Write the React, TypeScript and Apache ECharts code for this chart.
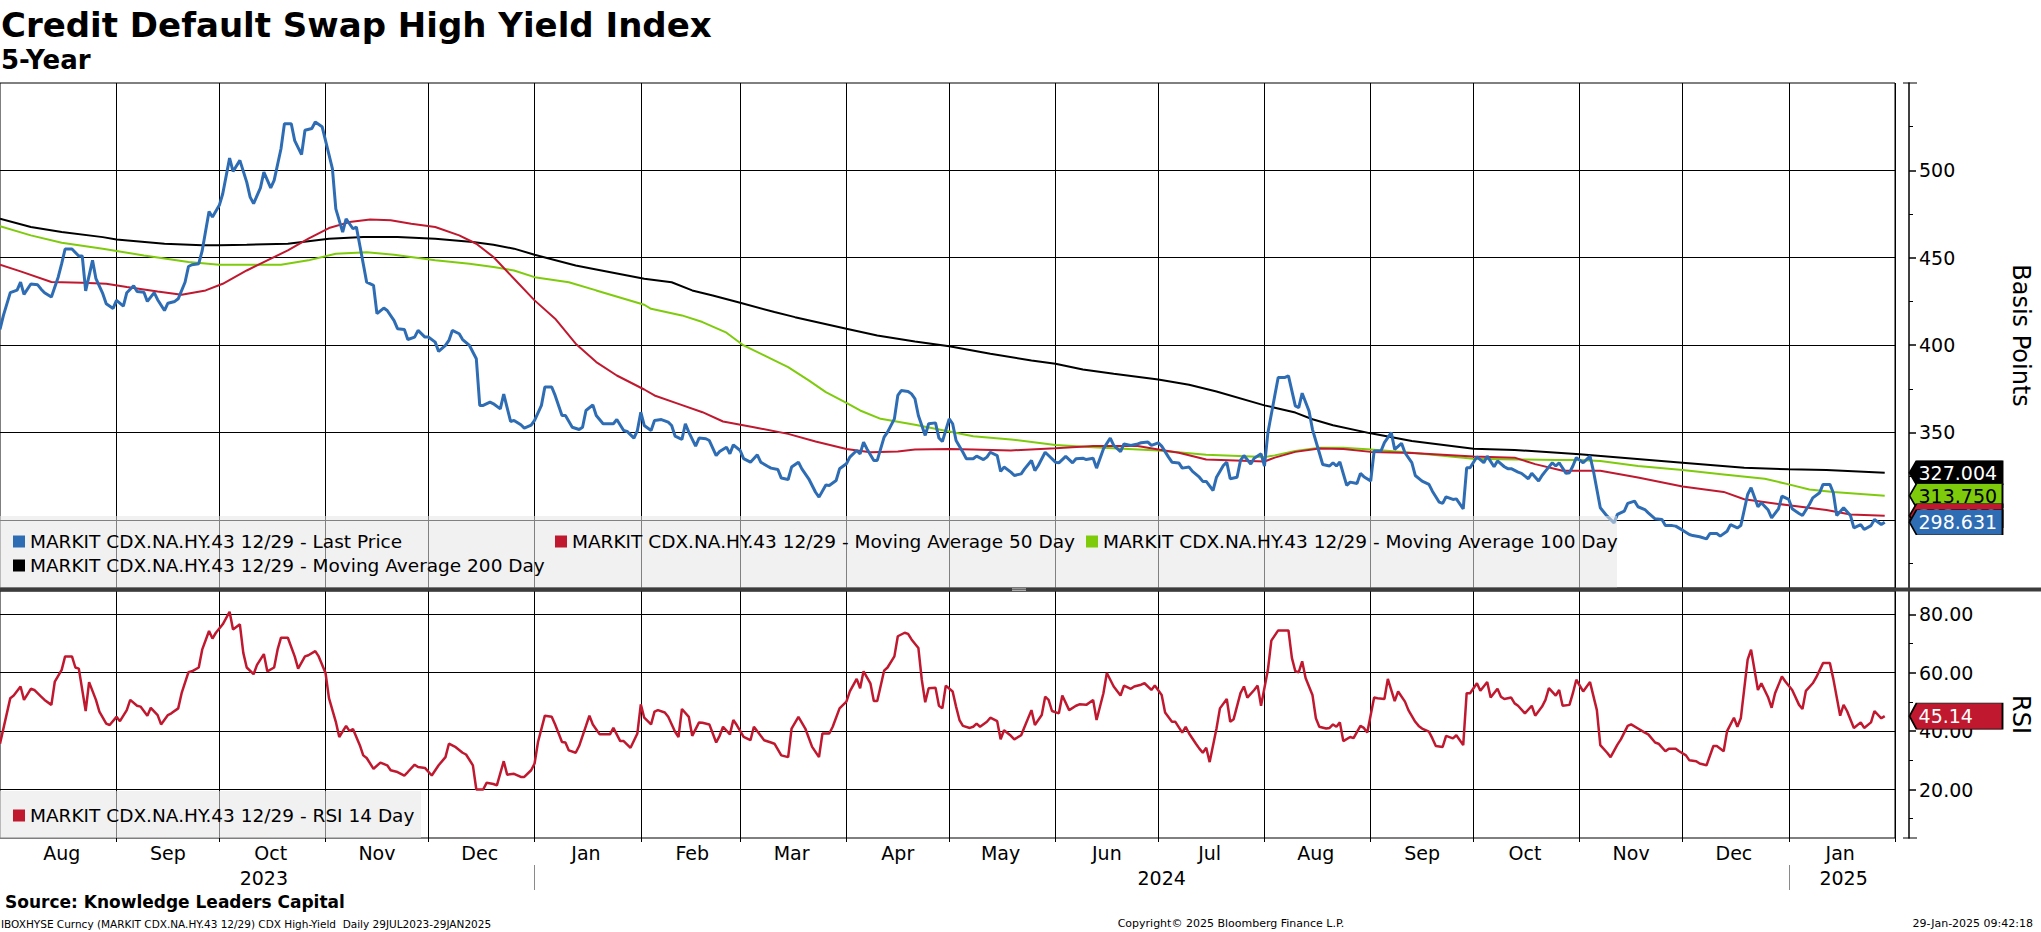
import React, { useRef, useEffect } from 'react';
import * as echarts from 'echarts';

const FONT = '"DejaVu Sans", sans-serif';
const START = '2023-07-29';
const END = '2025-02-01';

const S_LAST = 'MARKIT CDX.NA.HY.43 12/29 - Last Price';
const S_MA50 = 'MARKIT CDX.NA.HY.43 12/29 - Moving Average 50 Day';
const S_MA100 = 'MARKIT CDX.NA.HY.43 12/29 - Moving Average 100 Day';
const S_MA200 = 'MARKIT CDX.NA.HY.43 12/29 - Moving Average 200 Day';
const S_RSI = 'MARKIT CDX.NA.HY.43 12/29 - RSI 14 Day';

const monthNames = ['Jan', 'Feb', 'Mar', 'Apr', 'May', 'Jun', 'Jul', 'Aug', 'Sep', 'Oct', 'Nov', 'Dec'];
const yearLabelDates = ['2023-10-14', '2024-07-02', '2025-01-17'];
const yearBreaks = ['2024-01-01', '2025-01-01'];
const priceTicks = [300, 350, 400, 450, 500];
const priceMinorTicks = [275, 325, 375, 425, 475, 525];
const rsiTicks = [20, 40, 60, 80];
const rsiMinorTicks = [10, 30, 50, 70];

const lastPrice: [string, number][] = [
  ['2023-07-29', 409], ['2023-07-30', 417], ['2023-08-01', 430], ['2023-08-03', 431.5], ['2023-08-04', 436],
  ['2023-08-05', 429], ['2023-08-07', 435], ['2023-08-09', 434.5], ['2023-08-10', 432], ['2023-08-11', 430],
  ['2023-08-13', 427.5], ['2023-08-15', 439], ['2023-08-16', 446.6], ['2023-08-17', 455], ['2023-08-19', 455],
  ['2023-08-21', 451], ['2023-08-22', 451], ['2023-08-23', 431], ['2023-08-25', 448.5], ['2023-08-26', 438],
  ['2023-08-28', 429.4], ['2023-08-29', 423.7], ['2023-08-31', 421], ['2023-09-01', 425.6], ['2023-09-03', 422.3],
  ['2023-09-04', 430], ['2023-09-06', 434], ['2023-09-07', 430.7], ['2023-09-09', 430.3], ['2023-09-10', 425],
  ['2023-09-12', 430], ['2023-09-13', 426], ['2023-09-15', 419.8], ['2023-09-16', 424], ['2023-09-18', 425],
  ['2023-09-19', 426.5], ['2023-09-21', 436], ['2023-09-22', 445], ['2023-09-23', 446], ['2023-09-25', 446.6],
  ['2023-09-26', 454], ['2023-09-28', 476.5], ['2023-09-29', 473.3], ['2023-10-01', 480], ['2023-10-02', 486.6],
  ['2023-10-04', 507], ['2023-10-05', 499.4], ['2023-10-07', 505.7], ['2023-10-09', 493.3], ['2023-10-10', 484.7],
  ['2023-10-11', 481], ['2023-10-13', 490], ['2023-10-14', 499], ['2023-10-16', 490], ['2023-10-17', 494.3],
  ['2023-10-19', 512.4], ['2023-10-20', 526.7], ['2023-10-22', 526.7], ['2023-10-23', 517], ['2023-10-25', 509],
  ['2023-10-26', 523], ['2023-10-28', 524], ['2023-10-29', 527.7], ['2023-10-31', 525], ['2023-11-01', 517],
  ['2023-11-03', 501], ['2023-11-04', 478], ['2023-11-06', 464.7], ['2023-11-07', 472.3], ['2023-11-09', 466.6],
  ['2023-11-10', 467.6], ['2023-11-12', 446.6], ['2023-11-13', 436], ['2023-11-15', 434.2], ['2023-11-16', 418],
  ['2023-11-18', 421.2], ['2023-11-19', 419.8], ['2023-11-21', 414], ['2023-11-22', 409.4], ['2023-11-24', 409],
  ['2023-11-25', 403.2], ['2023-11-27', 404.6], ['2023-11-28', 408.4], ['2023-11-30', 404.6], ['2023-12-01', 404.6],
  ['2023-12-03', 401.7], ['2023-12-04', 396.4], ['2023-12-06', 399.8], ['2023-12-07', 402.7], ['2023-12-08', 408.4],
  ['2023-12-10', 406.5], ['2023-12-11', 403.2], ['2023-12-13', 399.8], ['2023-12-15', 392.2], ['2023-12-16', 365.5],
  ['2023-12-17', 365.5], ['2023-12-19', 367.4], ['2023-12-20', 366.4], ['2023-12-22', 363.5], ['2023-12-23', 372],
  ['2023-12-25', 356.3], ['2023-12-26', 356.9], ['2023-12-28', 354.4], ['2023-12-29', 352.5], ['2023-12-31', 354.2],
  ['2024-01-01', 356.9], ['2024-01-03', 365.5], ['2024-01-04', 376], ['2024-01-06', 376], ['2024-01-07', 371.2],
  ['2024-01-09', 359.7], ['2024-01-10', 359.7], ['2024-01-12', 353], ['2024-01-14', 351.7], ['2024-01-15', 353],
  ['2024-01-16', 362.6], ['2024-01-18', 365.8], ['2024-01-19', 359.7], ['2024-01-21', 355], ['2024-01-22', 355],
  ['2024-01-24', 355], ['2024-01-25', 357.4], ['2024-01-27', 351.1], ['2024-01-28', 350.6], ['2024-01-30', 346.8],
  ['2024-01-31', 351.1], ['2024-02-01', 361.6], ['2024-02-02', 354], ['2024-02-04', 351.1], ['2024-02-05', 356.9],
  ['2024-02-07', 357.4], ['2024-02-09', 355.9], ['2024-02-10', 354], ['2024-02-11', 347.9], ['2024-02-13', 346],
  ['2024-02-14', 355], ['2024-02-15', 350.2], ['2024-02-17', 342.2], ['2024-02-18', 346.8], ['2024-02-20', 346.4],
  ['2024-02-21', 345.4], ['2024-02-23', 336.8], ['2024-02-24', 339.1], ['2024-02-26', 341.6], ['2024-02-27', 337.8],
  ['2024-02-28', 342.9], ['2024-03-01', 339.7], ['2024-03-02', 335], ['2024-03-04', 333], ['2024-03-06', 337.2],
  ['2024-03-07', 333], ['2024-03-09', 330.7], ['2024-03-10', 329.6], ['2024-03-12', 328.8], ['2024-03-13', 323.9],
  ['2024-03-15', 323.1], ['2024-03-16', 330.2], ['2024-03-18', 333], ['2024-03-19', 329.2], ['2024-03-21', 323.5],
  ['2024-03-23', 315.8], ['2024-03-24', 313], ['2024-03-26', 320], ['2024-03-27', 319.7], ['2024-03-29', 322.5],
  ['2024-03-30', 329.2], ['2024-04-01', 332.1], ['2024-04-02', 335.9], ['2024-04-04', 339.7], ['2024-04-05', 337.8],
  ['2024-04-06', 344.5], ['2024-04-07', 340.6], ['2024-04-09', 334], ['2024-04-10', 334], ['2024-04-12', 347.3],
  ['2024-04-13', 350.2], ['2024-04-15', 357.8], ['2024-04-16', 371.2], ['2024-04-17', 374], ['2024-04-19', 373.5],
  ['2024-04-20', 372.1], ['2024-04-21', 369.3], ['2024-04-22', 359.7], ['2024-04-24', 348.3], ['2024-04-25', 355],
  ['2024-04-27', 355.5], ['2024-04-28', 346.8], ['2024-04-29', 344.8], ['2024-05-01', 357.8], ['2024-05-02', 355],
  ['2024-05-03', 345.4], ['2024-05-05', 338.7], ['2024-05-06', 335], ['2024-05-08', 335], ['2024-05-09', 336.5],
  ['2024-05-11', 334.5], ['2024-05-12', 335.9], ['2024-05-13', 338.7], ['2024-05-15', 336.8], ['2024-05-16', 327.7],
  ['2024-05-17', 330.2], ['2024-05-19', 327.3], ['2024-05-20', 325.4], ['2024-05-22', 326.3], ['2024-05-23', 329.2],
  ['2024-05-25', 334], ['2024-05-26', 328.2], ['2024-05-27', 331.1], ['2024-05-29', 338.7], ['2024-05-30', 336.8],
  ['2024-06-01', 333], ['2024-06-02', 332.6], ['2024-06-04', 336.3], ['2024-06-06', 332.6], ['2024-06-07', 335],
  ['2024-06-09', 335.3], ['2024-06-10', 334.5], ['2024-06-12', 335.3], ['2024-06-13', 329.6], ['2024-06-15', 340.6],
  ['2024-06-17', 346.8], ['2024-06-18', 342.6], ['2024-06-20', 339.1], ['2024-06-21', 343.5], ['2024-06-23', 342.6],
  ['2024-06-25', 343.5], ['2024-06-26', 344.1], ['2024-06-28', 344.5], ['2024-06-29', 342.6], ['2024-07-01', 344.1],
  ['2024-07-02', 342.2], ['2024-07-04', 335.9], ['2024-07-05', 333], ['2024-07-07', 332.6], ['2024-07-08', 329.6],
  ['2024-07-10', 330.2], ['2024-07-11', 327.7], ['2024-07-13', 324.4], ['2024-07-14', 322], ['2024-07-15', 322],
  ['2024-07-17', 316.8], ['2024-07-18', 324.4], ['2024-07-20', 331.1], ['2024-07-21', 333], ['2024-07-22', 323.5],
  ['2024-07-24', 324.4], ['2024-07-25', 334], ['2024-07-26', 336.8], ['2024-07-28', 332], ['2024-07-29', 335.3],
  ['2024-07-31', 337.8], ['2024-08-01', 330.8], ['2024-08-02', 349.9], ['2024-08-04', 371], ['2024-08-05', 381.5],
  ['2024-08-07', 381.5], ['2024-08-08', 382.4], ['2024-08-10', 365.2], ['2024-08-11', 364.2], ['2024-08-12', 372.5],
  ['2024-08-14', 362.3], ['2024-08-15', 351.8], ['2024-08-17', 338.4], ['2024-08-18', 331.7], ['2024-08-20', 330.8],
  ['2024-08-21', 332.7], ['2024-08-22', 330.8], ['2024-08-23', 333.1], ['2024-08-25', 319.7], ['2024-08-26', 321.6],
  ['2024-08-28', 320.8], ['2024-08-29', 326.6], ['2024-08-30', 324.7], ['2024-09-01', 322.2], ['2024-09-02', 339.4],
  ['2024-09-04', 339.4], ['2024-09-05', 344.2], ['2024-09-07', 349.9], ['2024-09-08', 340.3], ['2024-09-10', 343.8],
  ['2024-09-11', 338.4], ['2024-09-13', 332.7], ['2024-09-14', 325.4], ['2024-09-16', 322.2], ['2024-09-18', 320.3],
  ['2024-09-19', 316.4], ['2024-09-21', 310.1], ['2024-09-22', 309.4], ['2024-09-23', 313.2], ['2024-09-25', 311.7],
  ['2024-09-26', 312], ['2024-09-28', 306.3], ['2024-09-29', 329.8], ['2024-09-30', 329.8], ['2024-10-02', 336.1],
  ['2024-10-04', 332.7], ['2024-10-05', 336.5], ['2024-10-07', 330.4], ['2024-10-08', 333.7], ['2024-10-10', 330.4],
  ['2024-10-11', 329.3], ['2024-10-12', 329.3], ['2024-10-14', 327.3], ['2024-10-15', 326.6], ['2024-10-17', 323.5],
  ['2024-10-18', 326.6], ['2024-10-20', 322.2], ['2024-10-21', 325.4], ['2024-10-22', 327.9], ['2024-10-24', 332.7],
  ['2024-10-25', 330.8], ['2024-10-26', 332.7], ['2024-10-28', 326.6], ['2024-10-29', 327], ['2024-10-30', 330.8],
  ['2024-10-31', 335.6], ['2024-11-02', 332.7], ['2024-11-04', 336.5], ['2024-11-05', 327.9], ['2024-11-07', 306.9],
  ['2024-11-09', 302.1], ['2024-11-11', 298.3], ['2024-11-12', 303.1], ['2024-11-14', 305], ['2024-11-15', 309.4],
  ['2024-11-17', 310.7], ['2024-11-18', 307.5], ['2024-11-20', 305.9], ['2024-11-21', 304], ['2024-11-23', 300.6],
  ['2024-11-25', 300.2], ['2024-11-26', 296.7], ['2024-11-28', 296.7], ['2024-11-29', 296.4], ['2024-12-01', 294.1],
  ['2024-12-03', 291.6], ['2024-12-04', 291], ['2024-12-06', 290.3], ['2024-12-08', 289.1], ['2024-12-09', 292.2],
  ['2024-12-11', 292.2], ['2024-12-12', 290.7], ['2024-12-14', 293.5], ['2024-12-15', 297.3], ['2024-12-17', 295.4],
  ['2024-12-18', 296.7], ['2024-12-20', 314.5], ['2024-12-21', 318.4], ['2024-12-23', 307.5], ['2024-12-24', 309.8],
  ['2024-12-26', 305.6], ['2024-12-27', 301.1], ['2024-12-29', 306.3], ['2024-12-30', 313.6], ['2025-01-01', 311.7],
  ['2025-01-02', 306.3], ['2025-01-04', 303.6], ['2025-01-05', 302.5], ['2025-01-07', 308.8], ['2025-01-08', 312.6],
  ['2025-01-10', 315.5], ['2025-01-11', 320.3], ['2025-01-13', 320.3], ['2025-01-14', 315.5], ['2025-01-15', 302.5],
  ['2025-01-17', 306.9], ['2025-01-19', 302.5], ['2025-01-20', 295.4], ['2025-01-22', 297.3], ['2025-01-23', 294.5],
  ['2025-01-25', 296.7], ['2025-01-26', 300.2], ['2025-01-28', 297.3], ['2025-01-29', 298.631],
];

const ma50: [string, number][] = [
  ['2023-07-29', 446], ['2023-08-04', 442.2], ['2023-08-13', 436.1], ['2023-08-22', 435.7], ['2023-08-29', 435.1],
  ['2023-09-04', 433.2], ['2023-09-13', 430.7], ['2023-09-20', 428.8], ['2023-09-27', 431.3], ['2023-10-02', 435.1],
  ['2023-10-09', 442.7], ['2023-10-15', 448.5], ['2023-10-21', 454.2], ['2023-10-27', 460.9], ['2023-11-02', 467],
  ['2023-11-08', 470.4], ['2023-11-14', 471.9], ['2023-11-20', 471.4], ['2023-11-26', 469.5], ['2023-12-03', 467.6],
  ['2023-12-10', 462.8], ['2023-12-15', 458], ['2023-12-20', 450.4], ['2023-12-26', 438], ['2024-01-01', 425.6],
  ['2024-01-07', 415.1], ['2024-01-13', 400.8], ['2024-01-19', 390.3], ['2024-01-25', 382.6], ['2024-02-02', 374.6],
  ['2024-02-05', 371.2], ['2024-02-12', 366.4], ['2024-02-19', 361.6], ['2024-02-25', 356.3], ['2024-03-05', 353],
  ['2024-03-15', 349.2], ['2024-03-23', 344.8], ['2024-04-01', 340.6], ['2024-04-08', 338.7], ['2024-04-16', 339.1],
  ['2024-04-21', 340.3], ['2024-05-01', 340.6], ['2024-05-08', 340.3], ['2024-05-19', 339.7], ['2024-06-01', 341],
  ['2024-06-12', 342.2], ['2024-06-25', 342.2], ['2024-07-01', 340.3], ['2024-07-07', 338.4], ['2024-07-15', 334.5],
  ['2024-08-01', 333.4], ['2024-08-04', 335.6], ['2024-08-10', 338.9], ['2024-08-17', 340.8], ['2024-08-24', 340.5],
  ['2024-09-01', 338.9], ['2024-09-13', 338.2], ['2024-10-01', 336.2], ['2024-10-13', 335.6], ['2024-10-19', 331.9],
  ['2024-10-27', 328.1], ['2024-11-07', 328.1], ['2024-11-18', 324.2], ['2024-12-01', 319.1], ['2024-12-13', 316],
  ['2024-12-19', 311.8], ['2025-01-01', 308.3], ['2025-01-12', 305.6], ['2025-01-19', 303.1], ['2025-01-29', 302.4],
];

const ma100: [string, number][] = [
  ['2023-07-29', 468.1], ['2023-08-07', 462.8], ['2023-08-16', 458.6], ['2023-08-28', 455.2], ['2023-09-09', 451.3],
  ['2023-09-22', 447.5], ['2023-10-01', 446], ['2023-10-19', 446], ['2023-10-27', 448.5], ['2023-11-04', 452.3],
  ['2023-11-13', 453.2], ['2023-11-21', 451.7], ['2023-12-03', 448.5], ['2023-12-13', 446.6], ['2023-12-20', 444.7],
  ['2023-12-26', 442.7], ['2024-01-01', 438.9], ['2024-01-11', 436], ['2024-01-19', 431.3], ['2024-02-02', 423.1],
  ['2024-02-04', 420.8], ['2024-02-13', 417], ['2024-02-19', 413.2], ['2024-02-26', 407.1], ['2024-03-02', 399.8],
  ['2024-03-08', 394.1], ['2024-03-15', 387.4], ['2024-03-21', 379.8], ['2024-03-26', 373.1], ['2024-04-01', 367],
  ['2024-04-05', 362.6], ['2024-04-11', 357.8], ['2024-04-21', 354.4], ['2024-05-01', 350.6], ['2024-05-08', 347.9],
  ['2024-05-19', 346], ['2024-06-01', 342.9], ['2024-06-12', 341.6], ['2024-07-01', 339.7], ['2024-07-15', 337.2],
  ['2024-08-01', 335.9], ['2024-08-04', 336.9], ['2024-08-10', 339.4], ['2024-08-17', 341.3], ['2024-08-24', 341.3],
  ['2024-09-01', 340.3], ['2024-09-13', 338.4], ['2024-10-01', 334.9], ['2024-10-13', 334.6], ['2024-10-25', 334.2],
  ['2024-11-01', 334.2], ['2024-11-07', 333.7], ['2024-11-18', 330.8], ['2024-12-01', 328.5], ['2024-12-13', 326],
  ['2024-12-25', 323.5], ['2025-01-01', 320.3], ['2025-01-07', 317.4], ['2025-01-14', 315.9], ['2025-01-29', 313.75],
];

const ma200: [string, number][] = [
  ['2023-07-29', 472.3], ['2023-08-07', 467.6], ['2023-08-16', 464.7], ['2023-08-28', 461.8], ['2023-09-01', 460.5],
  ['2023-09-15', 458], ['2023-09-26', 457.1], ['2023-10-01', 457.1], ['2023-10-09', 457.4], ['2023-10-21', 458],
  ['2023-11-02', 460.9], ['2023-11-12', 461.8], ['2023-11-22', 461.8], ['2023-12-03', 460.9], ['2023-12-14', 459],
  ['2023-12-20', 457.4], ['2023-12-26', 455.2], ['2024-01-01', 451.7], ['2024-01-13', 445.6], ['2024-01-19', 443.3],
  ['2024-02-02', 438], ['2024-02-10', 436], ['2024-02-16', 431.3], ['2024-02-22', 428.4], ['2024-03-01', 424.2],
  ['2024-03-11', 418.9], ['2024-03-17', 416], ['2024-04-01', 409.4], ['2024-04-10', 405.5], ['2024-04-21', 402.1],
  ['2024-05-01', 399.4], ['2024-05-13', 395], ['2024-05-25', 391.2], ['2024-06-01', 389.3], ['2024-06-09', 386.1],
  ['2024-06-18', 383.6], ['2024-07-01', 380.3], ['2024-07-10', 377.3], ['2024-07-18', 373.5], ['2024-08-01', 365.5],
  ['2024-08-04', 364.2], ['2024-08-10', 361.4], ['2024-08-15', 357.6], ['2024-08-21', 354.1], ['2024-09-01', 349.5],
  ['2024-09-13', 345.1], ['2024-10-01', 340.7], ['2024-10-13', 340], ['2024-11-01', 337.5], ['2024-12-01', 332.7],
  ['2024-12-19', 329.8], ['2025-01-01', 328.9], ['2025-01-12', 328.5], ['2025-01-29', 327.004],
];

const rsi14: [string, number][] = [
  ['2023-07-29', 35.7], ['2023-08-01', 51.3], ['2023-08-02', 52.2], ['2023-08-04', 55.3], ['2023-08-05', 50.7],
  ['2023-08-07', 54.5], ['2023-08-08', 54.1], ['2023-08-10', 51.8], ['2023-08-11', 50.7], ['2023-08-13', 49],
  ['2023-08-14', 57], ['2023-08-16', 61], ['2023-08-17', 65.6], ['2023-08-19', 65.6], ['2023-08-20', 61.8],
  ['2023-08-21', 61.4], ['2023-08-23', 46.9], ['2023-08-24', 56.8], ['2023-08-26', 50.7], ['2023-08-27', 46.7],
  ['2023-08-29', 42.6], ['2023-08-30', 42.1], ['2023-09-01', 44.9], ['2023-09-02', 43.4], ['2023-09-04', 47.2],
  ['2023-09-05', 50.7], ['2023-09-07', 48.7], ['2023-09-08', 48.4], ['2023-09-10', 45.3], ['2023-09-11', 48],
  ['2023-09-13', 45.5], ['2023-09-14', 42.3], ['2023-09-16', 45.5], ['2023-09-17', 46.1], ['2023-09-19', 47.8],
  ['2023-09-20', 53], ['2023-09-22', 60.2], ['2023-09-23', 60.5], ['2023-09-25', 61.8], ['2023-09-26', 67.9],
  ['2023-09-28', 74.3], ['2023-09-29', 71.7], ['2023-09-30', 73.7], ['2023-10-02', 76.6], ['2023-10-04', 80.9],
  ['2023-10-05', 74.8], ['2023-10-07', 76.6], ['2023-10-08', 66.8], ['2023-10-09', 61.8], ['2023-10-11', 59.5],
  ['2023-10-12', 62.7], ['2023-10-14', 66.4], ['2023-10-15', 60.5], ['2023-10-17', 61.8], ['2023-10-18', 67.9],
  ['2023-10-19', 72], ['2023-10-21', 72], ['2023-10-23', 65.6], ['2023-10-24', 61.4], ['2023-10-26', 65.6],
  ['2023-10-27', 66], ['2023-10-29', 67.4], ['2023-10-30', 65.6], ['2023-11-01', 59.9], ['2023-11-02', 51.3],
  ['2023-11-04', 43.2], ['2023-11-05', 38], ['2023-11-07', 41.8], ['2023-11-08', 40], ['2023-11-09', 40.7],
  ['2023-11-11', 35.2], ['2023-11-12', 31.7], ['2023-11-13', 30.8], ['2023-11-15', 27.1], ['2023-11-17', 29.2],
  ['2023-11-19', 28.3], ['2023-11-20', 26.6], ['2023-11-22', 26], ['2023-11-24', 24.8], ['2023-11-25', 26],
  ['2023-11-27', 28.5], ['2023-11-28', 27.7], ['2023-11-30', 27.4], ['2023-12-02', 24.8], ['2023-12-04', 28.3],
  ['2023-12-06', 31.1], ['2023-12-07', 35.7], ['2023-12-09', 34.5], ['2023-12-11', 32.6], ['2023-12-12', 32],
  ['2023-12-14', 28.3], ['2023-12-15', 20], ['2023-12-17', 20], ['2023-12-18', 22.3], ['2023-12-20', 21.9],
  ['2023-12-21', 21.4], ['2023-12-23', 29.7], ['2023-12-24', 25.1], ['2023-12-26', 25.4], ['2023-12-28', 24.3],
  ['2023-12-29', 24.3], ['2023-12-31', 26.6], ['2024-01-01', 28.9], ['2024-01-02', 36.3], ['2024-01-04', 45.3],
  ['2024-01-06', 44.9], ['2024-01-07', 42.3], ['2024-01-09', 36.3], ['2024-01-10', 36.1], ['2024-01-11', 33.4],
  ['2024-01-13', 32.6], ['2024-01-14', 34.9], ['2024-01-16', 41.8], ['2024-01-17', 45.3], ['2024-01-18', 42.3],
  ['2024-01-20', 38.9], ['2024-01-22', 38.9], ['2024-01-23', 38.9], ['2024-01-24', 41.1], ['2024-01-26', 36.6],
  ['2024-01-27', 36.6], ['2024-01-29', 34.3], ['2024-01-31', 39.2], ['2024-02-01', 49.2], ['2024-02-02', 44.6],
  ['2024-02-04', 42.3], ['2024-02-05', 46.7], ['2024-02-06', 47.2], ['2024-02-08', 46.4], ['2024-02-09', 44.9],
  ['2024-02-11', 39.8], ['2024-02-12', 38], ['2024-02-13', 47.6], ['2024-02-15', 44.9], ['2024-02-16', 38.4],
  ['2024-02-18', 43], ['2024-02-19', 42.9], ['2024-02-21', 42.3], ['2024-02-23', 36.1], ['2024-02-24', 38.4],
  ['2024-02-25', 41.5], ['2024-02-27', 38.9], ['2024-02-28', 43.8], ['2024-02-29', 42.1], ['2024-03-02', 38],
  ['2024-03-04', 36.9], ['2024-03-05', 41.5], ['2024-03-07', 38.4], ['2024-03-08', 36.9], ['2024-03-10', 36.1],
  ['2024-03-11', 35.7], ['2024-03-13', 31.7], ['2024-03-15', 31.1], ['2024-03-16', 40.9], ['2024-03-18', 44.9],
  ['2024-03-20', 40.9], ['2024-03-22', 34.6], ['2024-03-24', 31.1], ['2024-03-25', 39.2], ['2024-03-27', 39.2],
  ['2024-03-28', 41.5], ['2024-03-30', 47.8], ['2024-04-01', 50.1], ['2024-04-02', 53.6], ['2024-04-04', 57.9],
  ['2024-04-05', 54.7], ['2024-04-06', 60.5], ['2024-04-08', 56.4], ['2024-04-09', 50.3], ['2024-04-10', 50.3],
  ['2024-04-12', 60.7], ['2024-04-13', 61.8], ['2024-04-15', 65.6], ['2024-04-16', 72.5], ['2024-04-18', 73.7],
  ['2024-04-19', 73.3], ['2024-04-20', 71.4], ['2024-04-22', 68.5], ['2024-04-23', 57.6], ['2024-04-24', 49.9],
  ['2024-04-25', 54.7], ['2024-04-27', 54.9], ['2024-04-28', 48.7], ['2024-04-29', 47.8], ['2024-04-30', 55.6],
  ['2024-05-02', 53.6], ['2024-05-03', 48.4], ['2024-05-04', 43.8], ['2024-05-05', 41.8], ['2024-05-07', 41.1],
  ['2024-05-08', 41.5], ['2024-05-09', 42.6], ['2024-05-10', 41.5], ['2024-05-12', 43.2], ['2024-05-13', 44.6],
  ['2024-05-15', 43.4], ['2024-05-16', 37.2], ['2024-05-17', 40.3], ['2024-05-19', 38.4], ['2024-05-20', 37.2],
  ['2024-05-22', 38.6], ['2024-05-23', 41.5], ['2024-05-25', 47.2], ['2024-05-26', 42.1], ['2024-05-28', 45.5],
  ['2024-05-29', 51.8], ['2024-05-30', 50.7], ['2024-05-31', 46.9], ['2024-06-02', 46.1], ['2024-06-03', 52.2],
  ['2024-06-05', 47.2], ['2024-06-07', 48.7], ['2024-06-08', 49.2], ['2024-06-10', 49], ['2024-06-12', 50.7],
  ['2024-06-13', 43.8], ['2024-06-15', 53], ['2024-06-16', 59.9], ['2024-06-18', 55.3], ['2024-06-20', 52.2],
  ['2024-06-21', 55.6], ['2024-06-23', 54.5], ['2024-06-24', 55.3], ['2024-06-26', 55.9], ['2024-06-27', 56.4],
  ['2024-06-29', 54.1], ['2024-06-30', 55.6], ['2024-07-02', 52.4], ['2024-07-03', 46.4], ['2024-07-05', 43.2],
  ['2024-07-06', 43.2], ['2024-07-08', 39.5], ['2024-07-09', 41.5], ['2024-07-10', 39.2], ['2024-07-12', 35.7],
  ['2024-07-13', 34], ['2024-07-14', 32.6], ['2024-07-15', 34.3], ['2024-07-16', 29.4], ['2024-07-18', 40.9],
  ['2024-07-19', 47.8], ['2024-07-21', 51], ['2024-07-22', 43.2], ['2024-07-23', 44.1], ['2024-07-25', 53],
  ['2024-07-26', 55.3], ['2024-07-27', 51.5], ['2024-07-29', 54.1], ['2024-07-30', 55.6], ['2024-07-31', 48.7],
  ['2024-08-02', 61], ['2024-08-03', 71], ['2024-08-05', 74.5], ['2024-08-06', 74.5], ['2024-08-08', 74.5],
  ['2024-08-09', 65.1], ['2024-08-10', 60.5], ['2024-08-11', 60.2], ['2024-08-12', 63.9], ['2024-08-13', 58.2],
  ['2024-08-15', 52.4], ['2024-08-16', 44.4], ['2024-08-17', 41.5], ['2024-08-19', 40.9], ['2024-08-20', 41.1],
  ['2024-08-21', 42.3], ['2024-08-22', 41.5], ['2024-08-23', 43], ['2024-08-24', 36.6], ['2024-08-26', 38],
  ['2024-08-27', 37.6], ['2024-08-29', 41.8], ['2024-08-30', 41.1], ['2024-08-31', 39.5], ['2024-09-02', 51.5],
  ['2024-09-03', 51.3], ['2024-09-05', 51], ['2024-09-06', 57.9], ['2024-09-08', 50.3], ['2024-09-09', 53.6],
  ['2024-09-11', 50.1], ['2024-09-12', 47.2], ['2024-09-14', 43.2], ['2024-09-15', 41.8], ['2024-09-16', 40.9],
  ['2024-09-18', 39.8], ['2024-09-19', 37.5], ['2024-09-20', 34.9], ['2024-09-22', 34.6], ['2024-09-23', 38.4],
  ['2024-09-25', 37.5], ['2024-09-26', 38.6], ['2024-09-28', 35.2], ['2024-09-29', 53], ['2024-09-30', 53],
  ['2024-10-02', 56.4], ['2024-10-03', 53.8], ['2024-10-05', 56.8], ['2024-10-06', 51.5], ['2024-10-08', 54.5],
  ['2024-10-09', 51.8], ['2024-10-10', 51], ['2024-10-12', 51.5], ['2024-10-13', 49.5], ['2024-10-14', 48.7],
  ['2024-10-16', 46.1], ['2024-10-18', 48.7], ['2024-10-19', 45.3], ['2024-10-21', 48.4], ['2024-10-22', 50.7],
  ['2024-10-23', 54.7], ['2024-10-25', 52.2], ['2024-10-26', 54.1], ['2024-10-27', 48.7], ['2024-10-29', 49],
  ['2024-10-30', 53], ['2024-10-31', 57.6], ['2024-11-02', 53.6], ['2024-11-04', 56.8], ['2024-11-06', 47.2],
  ['2024-11-07', 35.2], ['2024-11-09', 32.6], ['2024-11-10', 31.1], ['2024-11-12', 35.4], ['2024-11-13', 37.2],
  ['2024-11-15', 41.8], ['2024-11-16', 42.3], ['2024-11-18', 40.9], ['2024-11-20', 39.5], ['2024-11-21', 38.9],
  ['2024-11-23', 36.1], ['2024-11-24', 35.7], ['2024-11-26', 33.1], ['2024-11-27', 34], ['2024-11-29', 34],
  ['2024-11-30', 33.1], ['2024-12-02', 31.7], ['2024-12-03', 30], ['2024-12-05', 29.7], ['2024-12-06', 28.9],
  ['2024-12-08', 28.3], ['2024-12-10', 34.9], ['2024-12-11', 34.9], ['2024-12-13', 33.1], ['2024-12-14', 40],
  ['2024-12-16', 44.6], ['2024-12-17', 41.5], ['2024-12-18', 44.4], ['2024-12-20', 64.5], ['2024-12-21', 67.9],
  ['2024-12-23', 54.1], ['2024-12-24', 56.4], ['2024-12-26', 51.5], ['2024-12-27', 48], ['2024-12-28', 53],
  ['2024-12-30', 58.7], ['2024-12-31', 57], ['2025-01-02', 54.1], ['2025-01-04', 49], ['2025-01-05', 47.6],
  ['2025-01-06', 53.8], ['2025-01-08', 56.4], ['2025-01-09', 58.4], ['2025-01-11', 63.3], ['2025-01-13', 63.3],
  ['2025-01-14', 57.9], ['2025-01-16', 45.3], ['2025-01-17', 49], ['2025-01-18', 46.9], ['2025-01-20', 41.1],
  ['2025-01-22', 43], ['2025-01-23', 41.1], ['2025-01-25', 43], ['2025-01-26', 46.9], ['2025-01-28', 44.4],
  ['2025-01-29', 45.14],
];

const COLORS = { last: '#2e6db4', ma50: '#c0182f', ma100: '#7ecb0c', ma200: '#000000', rsi: '#c0182f' };

// dates -> local timestamps, the x axes are numeric
const ts = (s: string) => {
  const [y, m, d] = s.split('-').map(Number);
  return new Date(y, m - 1, d).getTime();
};
const toPoints = (rows: [string, number][]) => rows.map(([d, v]) => [ts(d), v]);

const X_MIN = ts(START);
const X_MAX = ts(END);

// grid lines from September on (the chart has none at the start of August), labels mid-month
const monthStarts: number[] = [];
for (let d = new Date(2023, 8, 1); d.getTime() <= X_MAX; d = new Date(d.getFullYear(), d.getMonth() + 1, 1)) {
  monthStarts.push(d.getTime());
}
const monthMids: number[] = [];
for (let d = new Date(2023, 7, 16); d.getTime() < X_MAX; d = new Date(d.getFullYear(), d.getMonth() + 1, 16)) {
  monthMids.push(d.getTime());
}

const badgePath = 'path://M0,12 L7,0 L93,0 L93,24 L7,24 Z';

const badge = (rows: [string, number][], bg: string, textColor: string, digits: number, h: number, z: number) => {
  const last = rows[rows.length - 1];
  return {
    silent: true,
    z,
    symbol: badgePath,
    symbolSize: [93, h],
    symbolKeepAspect: false,
    symbolOffset: [61, 0],
    itemStyle: { color: bg, borderColor: '#000', borderWidth: 1 },
    label: {
      show: true,
      position: 'insideLeft',
      distance: 10,
      color: textColor,
      fontFamily: FONT,
      fontSize: 19,
      formatter: (p: any) => Number(p.value).toFixed(digits),
    },
    data: [{ coord: [X_MAX, last[1]], value: last[1] }],
  };
};

const legendBase = {
  icon: 'rect',
  itemWidth: 12,
  itemHeight: 12,
  itemGap: 5,
  padding: 0,
  orient: 'vertical' as const,
  selectedMode: false,
  z: 20,
  textStyle: { fontFamily: FONT, fontSize: 18.5, color: '#000' },
};

const xBase = {
  type: 'value' as const,
  min: X_MIN,
  max: X_MAX,
  axisLine: { show: false },
  splitLine: { show: true, lineStyle: { color: '#000', width: 1 } },
};

const App: React.FC = () => {
  const chartRef = useRef<HTMLDivElement>(null);

  useEffect(() => {
    if (!chartRef.current) return;
    const chart = echarts.init(chartRef.current, undefined, { renderer: 'svg' });

    const option: any = {
      animation: false,
      backgroundColor: '#fff',
      title: [
        { text: 'Credit Default Swap High Yield Index', left: 1, top: 8, padding: 0,
          textStyle: { fontFamily: FONT, fontWeight: 'bold', fontSize: 34, color: '#000' } },
        { text: '5-Year', left: 1, top: 47, padding: 0,
          textStyle: { fontFamily: FONT, fontWeight: 'bold', fontSize: 26, color: '#000' } },
      ],
      grid: [
        { left: 0, top: 83, width: 1903, height: 505, show: true, borderColor: '#000', borderWidth: 1, backgroundColor: 'transparent' },
        { left: 0, top: 591, width: 1903, height: 247, show: true, borderColor: '#000', borderWidth: 1, backgroundColor: 'transparent' },
      ],
      legend: [
        { ...legendBase, data: [S_LAST, S_MA200], left: 13, top: 532 },
        { ...legendBase, data: [S_MA50], left: 555, top: 532 },
        { ...legendBase, data: [S_MA100], left: 1086, top: 532 },
        { ...legendBase, data: [S_RSI], left: 13, top: 806 },
      ],
      xAxis: [
        { ...xBase, gridIndex: 0, axisTick: { show: false, customValues: monthStarts }, axisLabel: { show: false } },
        {
          ...xBase, gridIndex: 1,
          axisTick: { show: true, customValues: monthStarts, length: 4, lineStyle: { color: '#000' } },
          axisLabel: {
            customValues: monthMids, margin: 5, fontFamily: FONT, fontSize: 19, color: '#000',
            formatter: (v: number) => monthNames[new Date(v).getMonth()],
          },
        },
        {
          type: 'value', gridIndex: 1, min: X_MIN, max: X_MAX, position: 'bottom', offset: 27,
          axisLine: { show: false },
          splitLine: { show: false },
          axisTick: { show: true, customValues: yearBreaks.map(ts), length: 25, lineStyle: { color: '#8a8a8a' } },
          axisLabel: {
            customValues: yearLabelDates.map(ts), margin: 3, fontFamily: FONT, fontSize: 19, color: '#000',
            formatter: (v: number) => String(new Date(v).getFullYear()),
          },
        },
      ],
      yAxis: [
        {
          type: 'value', gridIndex: 0, position: 'right', offset: 14, min: 261, max: 550,
          axisLine: { show: true, lineStyle: { color: '#000', width: 1.5 } },
          axisTick: { show: true, customValues: priceTicks, length: 7, lineStyle: { color: '#000', width: 1.5 } },
          axisLabel: { customValues: priceTicks, margin: 10, fontFamily: FONT, fontSize: 19, color: '#000' },
          splitLine: { show: true, lineStyle: { color: '#000', width: 1 } },
          name: 'Basis Points', nameLocation: 'middle', nameRotate: -90, nameGap: 100,
          nameTextStyle: { fontFamily: FONT, fontSize: 24, color: '#000' },
        },
        {
          type: 'value', gridIndex: 0, position: 'right', offset: 14, min: 261, max: 550,
          axisLine: { show: false },
          axisTick: { show: true, customValues: priceMinorTicks, length: 4, lineStyle: { color: '#000' } },
          axisLabel: { show: false },
          splitLine: { show: false },
        },
        {
          type: 'value', gridIndex: 1, position: 'right', offset: 14, min: 3.4, max: 88,
          axisLine: { show: true, lineStyle: { color: '#000', width: 1.5 } },
          axisTick: { show: true, customValues: rsiTicks, length: 7, lineStyle: { color: '#000', width: 1.5 } },
          axisLabel: {
            customValues: rsiTicks, margin: 10, fontFamily: FONT, fontSize: 19, color: '#000',
            formatter: (v: number) => v.toFixed(2),
          },
          splitLine: { show: true, lineStyle: { color: '#000', width: 1 } },
          name: 'RSI', nameLocation: 'middle', nameRotate: -90, nameGap: 100,
          nameTextStyle: { fontFamily: FONT, fontSize: 24, color: '#000' },
        },
        {
          type: 'value', gridIndex: 1, position: 'right', offset: 14, min: 3.4, max: 88,
          axisLine: { show: false },
          axisTick: { show: true, customValues: rsiMinorTicks, length: 4, lineStyle: { color: '#000' } },
          axisLabel: { show: false },
          splitLine: { show: false },
        },
      ],
      series: [
        {
          name: S_MA200, type: 'line', xAxisIndex: 0, yAxisIndex: 0, data: toPoints(ma200), showSymbol: false, symbol: 'none',
          lineStyle: { color: COLORS.ma200, width: 2 }, itemStyle: { color: COLORS.ma200 },
          markPoint: badge(ma200, COLORS.ma200, '#fff', 3, 24, 5),
        },
        {
          name: S_MA100, type: 'line', xAxisIndex: 0, yAxisIndex: 0, data: toPoints(ma100), showSymbol: false, symbol: 'none',
          lineStyle: { color: COLORS.ma100, width: 2 }, itemStyle: { color: COLORS.ma100 },
          markPoint: badge(ma100, COLORS.ma100, '#000', 3, 24, 6),
        },
        {
          name: S_MA50, type: 'line', xAxisIndex: 0, yAxisIndex: 0, data: toPoints(ma50), showSymbol: false, symbol: 'none',
          lineStyle: { color: COLORS.ma50, width: 2 }, itemStyle: { color: COLORS.ma50 },
          markPoint: badge(ma50, COLORS.ma50, '#fff', 3, 24, 7),
        },
        {
          name: S_LAST, type: 'line', xAxisIndex: 0, yAxisIndex: 0, data: toPoints(lastPrice), showSymbol: false, symbol: 'none',
          lineStyle: { color: COLORS.last, width: 3 }, itemStyle: { color: COLORS.last },
          markPoint: badge(lastPrice, COLORS.last, '#fff', 3, 25, 8),
        },
        {
          name: S_RSI, type: 'line', xAxisIndex: 1, yAxisIndex: 2, data: toPoints(rsi14), showSymbol: false, symbol: 'none',
          lineStyle: { color: COLORS.rsi, width: 2.5 }, itemStyle: { color: COLORS.rsi },
          markPoint: badge(rsi14, COLORS.rsi, '#fff', 2, 26, 5),
        },
      ],
      graphic: [
        { type: 'rect', z: 10, silent: true, shape: { x: 0, y: 516, width: 1617, height: 72 }, style: { fill: 'rgba(230,230,230,0.56)' } },
        { type: 'rect', z: 10, silent: true, shape: { x: 0, y: 791, width: 421, height: 47 }, style: { fill: 'rgba(230,230,230,0.56)' } },
        { type: 'rect', z: 15, silent: true, shape: { x: 0, y: 587.5, width: 2041, height: 4 }, style: { fill: '#3c3c3c' } },
        // pane splitter grip
        { type: 'line', z: 16, silent: true, shape: { x1: 1012, y1: 588.8, x2: 1026, y2: 588.8 }, style: { stroke: '#b8b8b8', lineWidth: 1 } },
        { type: 'line', z: 16, silent: true, shape: { x1: 1012, y1: 590.4, x2: 1026, y2: 590.4 }, style: { stroke: '#b8b8b8', lineWidth: 1 } },
        { type: 'line', z: 15, silent: true, shape: { x1: 1903, y1: 83, x2: 1917, y2: 83 }, style: { stroke: '#000', lineWidth: 1 } },
        { type: 'line', z: 15, silent: true, shape: { x1: 1903, y1: 838, x2: 1917, y2: 838 }, style: { stroke: '#000', lineWidth: 1 } },
        {
          type: 'text', left: 5, top: 893, z: 15,
          style: { text: 'Source: Knowledge Leaders Capital', fontFamily: FONT, fontWeight: 'bold', fontSize: 17, fill: '#000' },
        },
        {
          type: 'text', left: 1, top: 918, z: 15,
          style: { text: 'IBOXHYSE Curncy (MARKIT CDX.NA.HY.43 12/29) CDX High-Yield  Daily 29JUL2023-29JAN2025', fontFamily: FONT, fontSize: 10.5, fill: '#000' },
        },
        {
          type: 'text', x: 1231, y: 918, z: 15,
          style: { text: 'Copyright\u00a9 2025 Bloomberg Finance L.P.', fontFamily: FONT, fontSize: 11, fill: '#000', align: 'center', verticalAlign: 'top' },
        },
        {
          type: 'text', x: 2033, y: 918, z: 15,
          style: { text: '29-Jan-2025 09:42:18', fontFamily: FONT, fontSize: 11, fill: '#000', align: 'right', verticalAlign: 'top' },
        },
      ],
    };

    chart.setOption(option);

    return () => {
      chart.dispose();
    };
  }, []);

  return <div ref={chartRef} style={{ position: 'absolute', left: 0, top: 0, width: 2041, height: 932 }} />;
};

export default App;
